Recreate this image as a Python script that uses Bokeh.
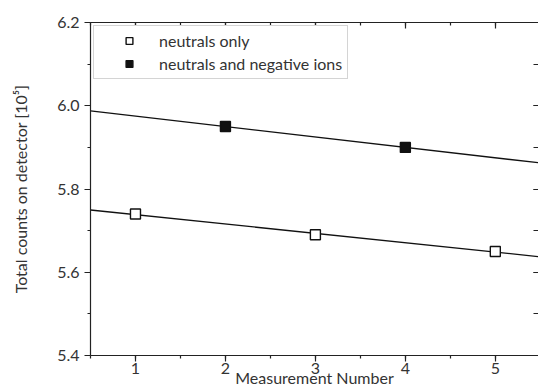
import numpy as np
from bokeh.plotting import figure
from bokeh.models import (Range1d, LinearAxis, SingleIntervalTicker, Legend, LegendItem,
                          NumeralTickFormatter, CustomJSTickFormatter)
from bokeh.embed import file_html
from bokeh.resources import INLINE

# ---- data ----
neutral_x = [1, 3, 5]
neutral_y = [5.74, 5.69, 5.65]
ions_x = [2, 4]
ions_y = [5.95, 5.90]
label_neutral = "neutrals only"
label_ions = "neutrals and negative ions"
x_label = "Measurement Number"
y_label = "Total counts on detector [10\u2075]"

X0, X1 = 0.5, 5.48
Y0, Y1 = 5.4, 6.2
FONT = "Lato"
TXT = "#333333"
AX = "#222222"

p = figure(width=538, height=390, output_backend="svg", toolbar_location=None,
           x_range=Range1d(X0, X1), y_range=Range1d(Y0, Y1),
           min_border_left=90, min_border_top=22, min_border_bottom=35, min_border_right=0,
           x_axis_location=None, y_axis_location=None)
p.outline_line_color = None
p.xgrid.visible = False
p.ygrid.visible = False
p.background_fill_color = "white"
p.border_fill_color = "white"

def style(ax):
    ax.axis_line_color = AX
    ax.axis_line_width = 1.2
    ax.major_tick_line_color = AX
    ax.minor_tick_line_color = AX
    ax.major_tick_line_width = 1.2
    ax.minor_tick_line_width = 1.2
    ax.major_label_text_font = FONT
    ax.major_label_text_color = TXT
    ax.major_label_text_font_size = "16px"
    ax.axis_label_text_font = FONT
    ax.axis_label_text_color = TXT
    ax.axis_label_text_font_size = "16px"
    ax.axis_label_text_font_style = "normal"

blank = CustomJSTickFormatter(code="return ''")

# bottom
xb = LinearAxis(ticker=SingleIntervalTicker(interval=1, num_minor_ticks=2), axis_label=x_label)
style(xb)
xb.major_tick_out = 6; xb.major_tick_in = 0
xb.minor_tick_out = 3; xb.minor_tick_in = 0
xb.major_label_standoff = 1
xb.axis_label_standoff = -9
p.add_layout(xb, "below")

# left
yl = LinearAxis(ticker=SingleIntervalTicker(interval=0.2, num_minor_ticks=2), axis_label=y_label,
                formatter=NumeralTickFormatter(format="0.0"))
style(yl)
yl.major_tick_out = 6; yl.major_tick_in = 0
yl.minor_tick_out = 3; yl.minor_tick_in = 0
yl.major_label_standoff = 5
yl.axis_label_standoff = 24
p.add_layout(yl, "left")

# top
xt = LinearAxis(ticker=SingleIntervalTicker(interval=1, num_minor_ticks=2), formatter=blank)
style(xt)
xt.major_tick_out = 0; xt.major_tick_in = 6
xt.minor_tick_out = 0; xt.minor_tick_in = 3
xt.major_label_standoff = 0
p.add_layout(xt, "above")

# right
yr = LinearAxis(ticker=SingleIntervalTicker(interval=0.2, num_minor_ticks=2), formatter=blank)
style(yr)
yr.axis_line_color = None
yr.major_tick_out = 0; yr.major_tick_in = 5
yr.minor_tick_out = 0; yr.minor_tick_in = 5
yr.major_label_standoff = 0
p.add_layout(yr, "right")

# linear fits from the data
xs = np.array([X0, X1])
for xd, yd in ((neutral_x, neutral_y), (ions_x, ions_y)):
    k, b = np.polyfit(xd, yd, 1)
    p.line(xs, k * xs + b, line_color="#111111", line_width=1.3)

r1 = p.scatter(neutral_x, neutral_y, marker="square", size=10, fill_color="white",
               line_color="#111111", line_width=1.4)
r2 = p.scatter(ions_x, ions_y, marker="square", size=10, fill_color="#111111",
               line_color="#111111", line_width=1.4)

legend = Legend(items=[LegendItem(label=label_neutral, renderers=[r1]),
                       LegendItem(label=label_ions, renderers=[r2])],
                location="top_left")
legend.margin = 3
legend.padding = 5
legend.spacing = 4
legend.glyph_height = 17
legend.glyph_width = 60
legend.label_standoff = 0
legend.label_text_font = FONT
legend.label_text_font_size = "16px"
legend.label_text_color = TXT
legend.border_line_color = "#aaaaaa"
legend.border_line_width = 1
legend.background_fill_color = "white"
legend.background_fill_alpha = 1
p.add_layout(legend, "center")

open("out.html", "w").write(file_html(p, INLINE))
